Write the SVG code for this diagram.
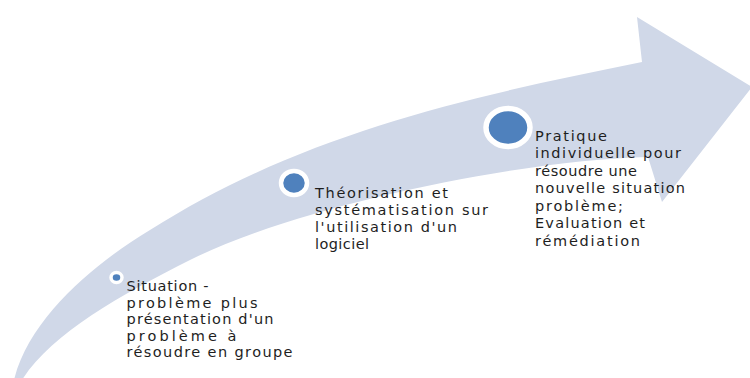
<svg xmlns="http://www.w3.org/2000/svg" width="750" height="378" viewBox="0 0 750 378">
<style>
.bg{fill:#ffffff}
.arrow{fill:#d0d8e8}
.dot{fill:#4f81bd;stroke:#ffffff}
.lbl{font-family:"DejaVu Sans","Liberation Sans",sans-serif;font-size:14.5px;fill:#1e1e1e}
</style>
<rect class="bg" x="0" y="0" width="750" height="378"/>
<g id="connectors">
<path class="arrow" d="M14,380 C30,315 100,260 150,230 C300,135 462,98 642,62 L637,17 L752,87 L662,202 L648,157 C520,160 300,205 190,260 C120,295 50,335 22,380 Z"/>
</g>
<g id="step1">
<ellipse class="dot" cx="116.5" cy="277.5" rx="5.5" ry="5" stroke-width="3.5"/>
<text class="lbl" x="126.5" y="291" textLength="82" lengthAdjust="spacing">Situation -</text>
<text class="lbl" x="126.5" y="307.5" textLength="131" lengthAdjust="spacing">problème plus</text>
<text class="lbl" x="126.5" y="324" textLength="147" lengthAdjust="spacing">présentation d'un</text>
<text class="lbl" x="126.5" y="340.5" textLength="110" lengthAdjust="spacing">problème à</text>
<text class="lbl" x="126.5" y="357" textLength="166" lengthAdjust="spacing">résoudre en groupe</text>
</g>
<g id="step2">
<ellipse class="dot" cx="294" cy="183" rx="13" ry="12" stroke-width="4.5"/>
<text class="lbl" x="315" y="197.5" textLength="133" lengthAdjust="spacing">Théorisation et</text>
<text class="lbl" x="315" y="214.5" textLength="173" lengthAdjust="spacing">systématisation sur</text>
<text class="lbl" x="315" y="231.5" textLength="142" lengthAdjust="spacing">l'utilisation d'un</text>
<text class="lbl" x="315" y="248.5" textLength="54" lengthAdjust="spacing">logiciel</text>
</g>
<g id="step3">
<ellipse class="dot" cx="508" cy="127.5" rx="22" ry="19" stroke-width="5.5"/>
<text class="lbl" x="535" y="140.5" textLength="72" lengthAdjust="spacing">Pratique</text>
<text class="lbl" x="535" y="158" textLength="146" lengthAdjust="spacing">individuelle pour</text>
<text class="lbl" x="535" y="175.5" textLength="102" lengthAdjust="spacing">résoudre une</text>
<text class="lbl" x="535" y="193" textLength="150" lengthAdjust="spacing">nouvelle situation</text>
<text class="lbl" x="535" y="210.5" textLength="88" lengthAdjust="spacing">problème;</text>
<text class="lbl" x="535" y="228" textLength="110" lengthAdjust="spacing">Evaluation et</text>
<text class="lbl" x="535" y="245.5" textLength="105" lengthAdjust="spacing">rémédiation</text>
</g>
</svg>
